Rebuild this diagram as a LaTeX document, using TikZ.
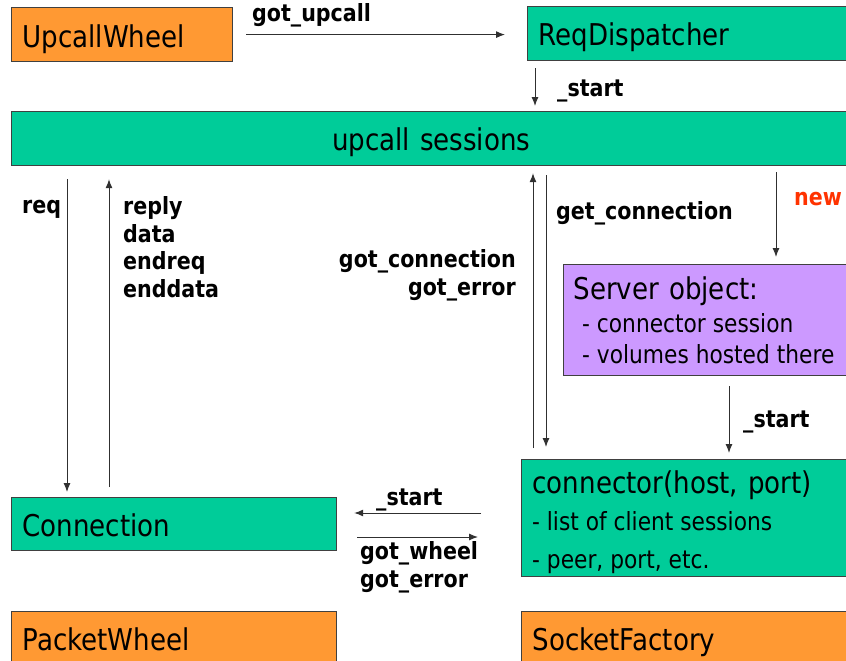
\documentclass[tikz,border=0pt]{standalone}
\usepackage{fontspec}
\setmainfont{DejaVu Sans}[FakeStretch=0.87]
\usepackage{tikz}
\usetikzlibrary{arrows.meta}
\usetikzlibrary{positioning}
\usetikzlibrary{calc}

\definecolor{sessgreen}{HTML}{00CC99}
\definecolor{wheelorange}{HTML}{FF9933}
\definecolor{serverpurple}{HTML}{CC99FF}
\definecolor{newred}{HTML}{FF3300}
\definecolor{boxline}{HTML}{404040}
\definecolor{flowgray}{HTML}{303030}

\begin{document}
\begin{tikzpicture}[x=1pt,y=-1pt]
\tikzstyle{box}=[draw=boxline,line width=1.2pt,anchor=north west,inner xsep=11pt,inner ysep=0pt,
  text height=39pt,text depth=15pt,font=\fontsize{30}{36}\selectfont,align=left]
\tikzstyle{item}=[inner sep=0pt,align=left,anchor=base west]
\tikzstyle{lbl}=[inner sep=0pt,font=\fontsize{23.7}{27.5}\selectfont\bfseries]
\tikzstyle{flow}=[draw=flowgray,line width=1pt,-{Latex[length=9pt,width=7pt]}]
\path[use as bounding box,clip] (0,0) rectangle (846,661);
\fill[white] (0,0) rectangle (846,661);

% boxes
\node[box,fill=wheelorange,text width=199pt,text height=40pt,text depth=14pt] (upcall) at (11,7) {UpcallWheel};
\node[box,fill=sessgreen,text width=301pt] (reqdisp) at (527,6) {ReqDispatcher};
\node[box,fill=sessgreen,text width=817pt,align=center] (sessions) at (11,111) {upcall sessions};
\node[box,fill=serverpurple,inner xsep=10pt,text width=267pt,text height=35pt,text depth=76pt] (server) at (563,264) {Server object:};
\node[box,fill=sessgreen,text width=307pt,text height=34pt,text depth=83pt] (connector) at (521,459) {connector(host, port)};
\node[box,fill=sessgreen,text width=303pt,text height=39pt,text depth=14pt] (conn) at (11,497) {Connection};
\node[box,fill=wheelorange,text width=303pt,text depth=20pt] (packet) at (11,611) {PacketWheel};
\node[box,fill=wheelorange,text width=307pt,text depth=20pt] (socket) at (521,611) {SocketFactory};

% box contents (anchored on the last line)
\node[item,font=\fontsize{25}{31}\selectfont] (srvitems) at (582,363) {- connector session\\- volumes hosted there};
\node[item,font=\fontsize{25}{38}\selectfont] (connitems) at (532,568) {- list of client sessions\\- peer, port, etc.};

% calls
\draw[flow,shorten <=13pt,shorten >=22pt] (upcall.east) -- (upcall.east -| reqdisp.west);
\draw[flow,shorten <=7pt,shorten >=5pt] ($(reqdisp.south west)+(8,0)$) -- ($(reqdisp.south west |- sessions.north)+(8,0)$);
\draw[flow,shorten <=13pt,shorten >=5pt] ($(sessions.south west)+(56,0)$) -- ($(sessions.south west |- conn.north)+(56,0)$);
\draw[flow,shorten <=10pt,shorten >=13pt] ($(conn.north west)+(98,0)$) -- ($(conn.north west |- sessions.south)+(98,0)$);
\draw[flow,shorten <=11pt,shorten >=7pt] ($(connector.north west)+(12,0)$) -- ($(connector.north west |- sessions.south)+(12,0)$);
\draw[flow,shorten <=9pt,shorten >=12pt] ($(connector.north west |- sessions.south)+(25,0)$) -- ($(connector.north west)+(25,0)$);
\draw[flow,shorten <=6pt,shorten >=7pt] ($(server.north west |- sessions.south)+(213,0)$) -- ($(server.north west)+(213,0)$);
\draw[flow,shorten <=10pt,shorten >=6pt] ($(server.south west)+(166,0)$) -- ($(server.south west |- connector.north)+(166,0)$);
\draw[flow,shorten <=40pt,shorten >=17pt] ($(connector.north west)+(0,54)$) -- ($(conn.north east |- connector.north west)+(0,54)$);
\draw[flow,shorten <=20pt,shorten >=43pt] ($(conn.north east)+(0,40)$) -- ($(conn.north east -| connector.west)+(0,40)$);

% labels
\node[lbl,anchor=base west] (lupcall) at (252,22) {got\_upcall};
\node[lbl,anchor=base west] (lstartdisp) at (557,96) {\_start};
\node[lbl,anchor=base west] (lreq) at (22,213) {req};
\node[lbl,anchor=base west,align=left] (lreply) at (123,297) {reply\\data\\endreq\\enddata};
\node[lbl,anchor=base east,align=right] (lgotconn) at (516,295) {got\_connection\\got\_error};
\node[lbl,anchor=base west] (lgetconn) at (556,219) {get\_connection};
\node[lbl,anchor=base west,text=newred] (lnew) at (794,205) {new};
\node[lbl,anchor=base west] (lstartsrv) at (743,427) {\_start};
\node[lbl,anchor=base west] (lstartconn) at (376,505) {\_start};
\node[lbl,anchor=base west,align=left] (lwheel) at (360,587) {got\_wheel\\got\_error};
\end{tikzpicture}
\end{document}
